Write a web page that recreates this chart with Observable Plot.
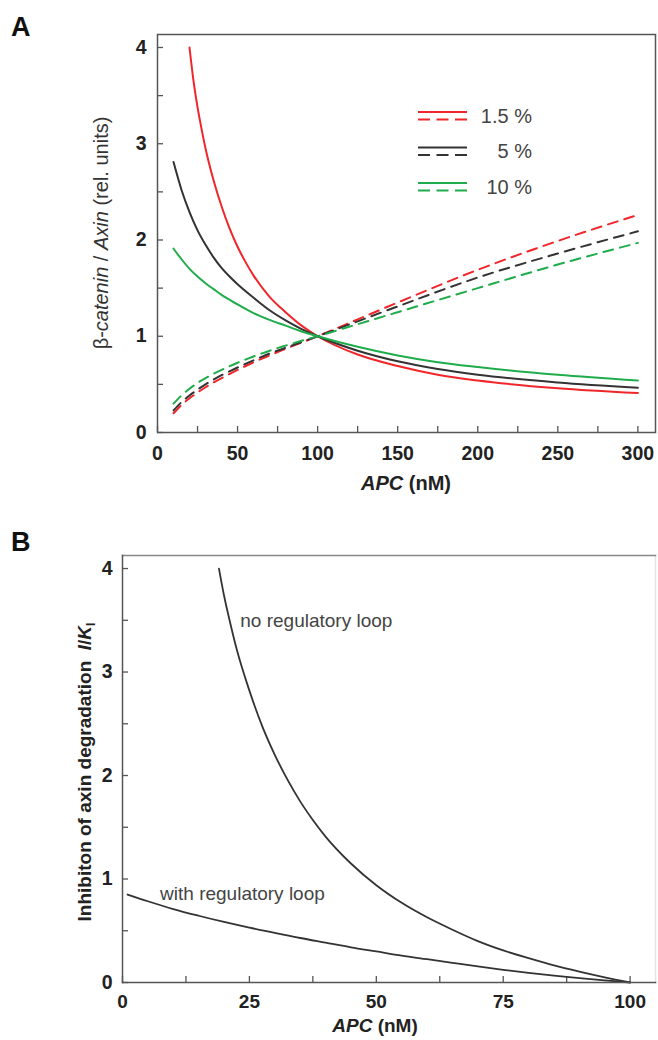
<!DOCTYPE html>
<html><head><meta charset="utf-8">
<script src="https://cdn.jsdelivr.net/npm/d3@7"></script>
<script src="https://cdn.jsdelivr.net/npm/@observablehq/plot@0.6"></script>
<style>
body{margin:0;background:#fff;}
#root{position:relative;width:658px;height:1040px;font-family:"Liberation Sans",Arial,sans-serif;}
#root svg{position:absolute;left:0;overflow:visible;}
</style></head><body><div id="root"></div>
<script>
// ---------- Panel A data ----------
const seriesNames = ["1.5 %", "5 %", "10 %"];
const seriesColors = ["#f0262b", "#333333", "#1fad4b"];

const xRedSolid = [20, 22.5, 25, 27.5, 30, 35, 40, 45, 50, 55, 60, 70, 80, 90, 100, 125, 150, 175, 200, 250, 300];
const yRedSolid = [4.0, 3.65, 3.38, 3.155, 2.95, 2.62, 2.35, 2.12, 1.93, 1.77, 1.63, 1.41, 1.25, 1.11, 1.0, 0.81, 0.69, 0.6, 0.54, 0.46, 0.41];

const xSolid = [10, 15, 20, 25, 30, 35, 40, 45, 50, 60, 70, 80, 90, 100, 125, 150, 175, 200, 250, 300];
const yBlackSolid = [2.81, 2.52, 2.29, 2.1, 1.95, 1.82, 1.71, 1.62, 1.54, 1.4, 1.27, 1.165, 1.075, 1.0, 0.85, 0.74, 0.66, 0.6, 0.52, 0.465];
const yGreenSolid = [1.91, 1.8, 1.7, 1.62, 1.55, 1.49, 1.43, 1.38, 1.33, 1.24, 1.17, 1.11, 1.05, 1.0, 0.89, 0.8, 0.73, 0.68, 0.6, 0.54];

const xDashed = [10, 15, 20, 25, 30, 40, 50, 60, 70, 80, 90, 100, 125, 150, 200, 250, 300];
const yRedDashed = [0.20, 0.285, 0.355, 0.415, 0.47, 0.565, 0.65, 0.73, 0.80, 0.87, 0.935, 1.0, 1.175, 1.35, 1.69, 1.99, 2.26];
const yBlackDashed = [0.23, 0.315, 0.385, 0.445, 0.50, 0.595, 0.675, 0.75, 0.82, 0.88, 0.94, 1.0, 1.155, 1.31, 1.61, 1.86, 2.09];
const yGreenDashed = [0.30, 0.385, 0.455, 0.515, 0.565, 0.65, 0.725, 0.79, 0.85, 0.903, 0.953, 1.0, 1.125, 1.25, 1.5, 1.745, 1.97];

const xTicksA = [0, 50, 100, 150, 200, 250, 300];
const xMinorA = [25, 75, 125, 175, 225, 275];
const yTicksA = [0, 1, 2, 3, 4];
const yMinorA = [0.5, 1.5, 2.5, 3.5];

// ---------- Panel B data ----------
const xNoLoop = [19, 20, 21, 22.5, 25, 27.5, 30, 32.5, 35, 37.5, 40, 45, 50, 55, 60, 65, 70, 75, 80, 85, 90, 95, 100];
const yNoLoop = [4.0, 3.74, 3.52, 3.22, 2.82, 2.48, 2.2, 1.96, 1.75, 1.57, 1.41, 1.15, 0.94, 0.77, 0.63, 0.51, 0.40, 0.31, 0.235, 0.165, 0.105, 0.05, 0];
const xWithLoop = [1, 5, 10, 15, 20, 25, 30, 35, 40, 45, 50, 55, 60, 65, 70, 75, 80, 85, 90, 95, 100];
const yWithLoop = [0.85, 0.785, 0.71, 0.645, 0.585, 0.53, 0.48, 0.43, 0.385, 0.34, 0.30, 0.26, 0.225, 0.19, 0.155, 0.123, 0.093, 0.066, 0.042, 0.02, 0];
const annotations = [
  {x: 23.2, y: 3.49, label: "no regulatory loop"},
  {x: 7.4, y: 0.86, label: "with regulatory loop"}
];
const xTicksB = [0, 25, 50, 75, 100];
const xMinorB = [12.5, 37.5, 62.5, 87.5];
const yTicksB = [0, 1, 2, 3, 4];
const yMinorB = [0.5, 1.5, 2.5, 3.5];

const FONT = '"Liberation Sans", Arial, sans-serif';
const rows = (xs, ys) => xs.map((x, i) => ({x, y: ys[i]}));

const root = document.getElementById("root");

// ---------- Panel A ----------
const solids = [rows(xRedSolid, yRedSolid), rows(xSolid, yBlackSolid), rows(xSolid, yGreenSolid)];
const dashes = [rows(xDashed, yRedDashed), rows(xDashed, yBlackDashed), rows(xDashed, yGreenDashed)];

const tickCommon = {stroke: "#555", strokeWidth: 1.3, text: null, label: null};
const labelCommon = {tickSize: 0, fontSize: 19.5, fontWeight: "bold", fill: "#222", label: null, tickFormat: d => String(d)};

const plotA = Plot.plot({
  width: 658, height: 510,
  marginLeft: 157, marginRight: 3, marginTop: 34, marginBottom: 78,
  x: {domain: [0, 311]},
  y: {domain: [0, 4.135]},
  style: {fontFamily: FONT, background: "transparent", overflow: "visible"},
  marks: [
    Plot.axisX({...tickCommon, ticks: xTicksA.concat(xMinorA), tickSize: 6, dy: -6}),
    Plot.axisY({...tickCommon, ticks: yTicksA.concat(yMinorA), tickSize: 6, dx: 6}),
    Plot.axisX({...labelCommon, ticks: xTicksA, tickPadding: 14}),
    Plot.axisY({...labelCommon, ticks: yTicksA, tickPadding: 11}),
    ...dashes.map((d, i) => Plot.line(d, {x: "x", y: "y", stroke: seriesColors[i], strokeWidth: 2, strokeDasharray: "10,7", curve: "monotone-x"})),
    ...solids.map((d, i) => Plot.line(d, {x: "x", y: "y", stroke: seriesColors[i], strokeWidth: 2, curve: "monotone-x"})),
    Plot.frame({stroke: "#555", strokeWidth: 1.5})
  ]
});
plotA.style.top = "0px";
root.appendChild(plotA);

// labels panel A
const sA = d3.select(plotA);
sA.append("text").attr("x", 11).attr("y", 36).attr("text-anchor", "start").attr("font-size", 27).attr("font-weight", "bold")
  .attr("font-family", FONT).attr("fill", "#111").text("A");
const ylA = sA.append("text").attr("transform", "translate(108,233) rotate(-90)")
  .attr("text-anchor", "middle").attr("font-size", 20).attr("font-family", FONT).attr("fill", "#333");
ylA.append("tspan").text("β-");
ylA.append("tspan").attr("font-style", "italic").text("catenin");
ylA.append("tspan").text(" / ");
ylA.append("tspan").attr("font-style", "italic").text("Axin");
ylA.append("tspan").text(" (rel. units)");
const xlA = sA.append("text").attr("x", 406).attr("y", 490).attr("text-anchor", "middle")
  .attr("font-size", 20).attr("font-weight", "bold").attr("font-family", FONT).attr("fill", "#222");
xlA.append("tspan").attr("font-style", "italic").text("APC");
xlA.append("tspan").text(" (nM)");

// legend panel A
const lg = sA.append("g").attr("font-family", FONT);
seriesNames.forEach((name, i) => {
  const y0 = 112 + i * 35.5;
  lg.append("line").attr("x1", 418).attr("x2", 467).attr("y1", y0).attr("y2", y0)
    .attr("stroke", seriesColors[i]).attr("stroke-width", 2);
  lg.append("line").attr("x1", 418).attr("x2", 467).attr("y1", y0 + 7.5).attr("y2", y0 + 7.5)
    .attr("stroke", seriesColors[i]).attr("stroke-width", 2).attr("stroke-dasharray", "12,6.5");
  lg.append("text").attr("x", 532).attr("y", y0 + 10.5).attr("text-anchor", "end")
    .attr("font-size", 20).attr("fill", "#444").text(name);
});

// ---------- Panel B ----------
const plotB = Plot.plot({
  width: 658, height: 530,
  marginLeft: 122, marginRight: 3, marginTop: 45, marginBottom: 58,
  x: {domain: [0, 105]},
  y: {domain: [0, 4.126]},
  style: {fontFamily: FONT, background: "transparent", overflow: "visible"},
  marks: [
    Plot.frame({anchor: "right", stroke: "#e4e4e4", strokeWidth: 1.5}),
    Plot.frame({anchor: "top", stroke: "#888", strokeWidth: 1.5}),
    Plot.axisX({...tickCommon, ticks: xTicksB.concat(xMinorB), tickSize: 6, dy: -6}),
    Plot.axisY({...tickCommon, ticks: yTicksB.concat(yMinorB), tickSize: 6, dx: 6}),
    Plot.axisX({...labelCommon, fontSize: 19, ticks: xTicksB, tickPadding: 12}),
    Plot.axisY({...labelCommon, ticks: yTicksB, tickPadding: 10}),
    Plot.line(rows(xNoLoop, yNoLoop), {x: "x", y: "y", stroke: "#333", strokeWidth: 1.8, curve: "monotone-x"}),
    Plot.line(rows(xWithLoop, yWithLoop), {x: "x", y: "y", stroke: "#333", strokeWidth: 1.8, curve: "monotone-x"}),
    Plot.text(annotations, {x: "x", y: "y", text: "label", textAnchor: "start", fontSize: 19, fill: "#444"}),
    Plot.frame({anchor: "left", stroke: "#555", strokeWidth: 1.5}),
    Plot.frame({anchor: "bottom", stroke: "#555", strokeWidth: 1.5})
  ]
});
plotB.style.top = "510px";
root.appendChild(plotB);

const sB = d3.select(plotB);
sB.append("text").attr("x", 11).attr("y", 41).attr("text-anchor", "start").attr("font-size", 27).attr("font-weight", "bold")
  .attr("font-family", FONT).attr("fill", "#111").text("B");
const ylB = sB.append("text").attr("transform", "translate(91,262) rotate(-90)")
  .attr("text-anchor", "middle").attr("font-size", 19).attr("font-weight", "bold")
  .attr("font-family", FONT).attr("fill", "#222");
ylB.append("tspan").text("Inhibiton of axin degradation  ");
ylB.append("tspan").attr("font-style", "italic").text("I");
ylB.append("tspan").text("/");
ylB.append("tspan").attr("font-style", "italic").text("K");
ylB.append("tspan").attr("font-size", 12).attr("dy", 4).text("I");
const xlB = sB.append("text").attr("x", 375).attr("y", 522).attr("text-anchor", "middle")
  .attr("font-size", 19).attr("font-weight", "bold").attr("font-family", FONT).attr("fill", "#222");
xlB.append("tspan").attr("font-style", "italic").text("APC");
xlB.append("tspan").text(" (nM)");
</script></body></html>
